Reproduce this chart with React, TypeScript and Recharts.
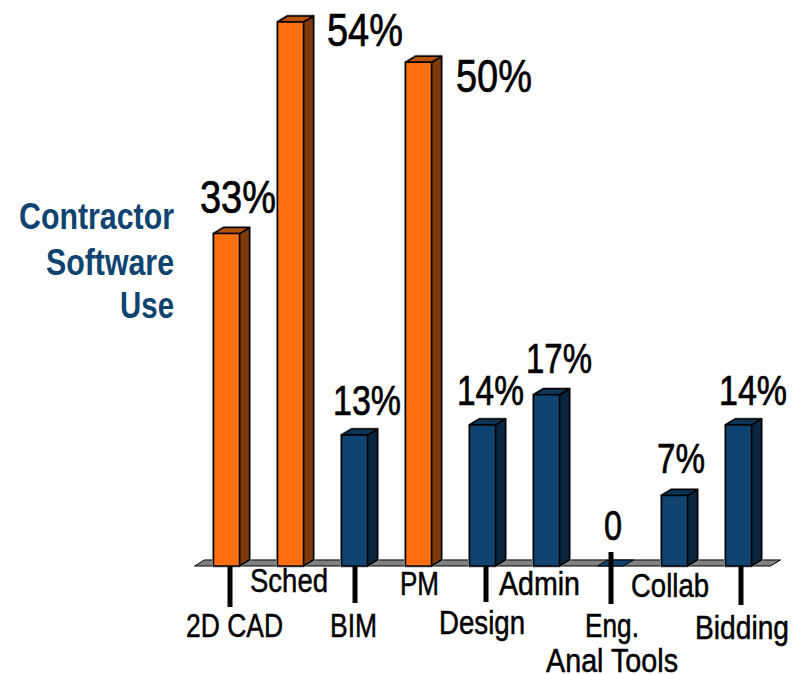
import React from "react";
import { BarChart, Bar, XAxis, YAxis, ReferenceArea } from "recharts";

const categories = ["2D CAD", "Sched", "BIM", "PM", "Design", "Admin", "Eng.", "Collab", "Bidding"];
const usePercent = [33, 54, 13, 50, 14, 17, 0, 7, 14];
const isHighlighted = [true, true, false, true, false, false, false, false, false];
const valueLabels = ["33%", "54%", "13%", "50%", "14%", "17%", "0", "7%", "14%"];
const titleLines = ["Contractor", "Software", "Use"];

const rows = categories.map((name, i) => ({
  name,
  value: usePercent[i],
  label: valueLabels[i],
  highlighted: isHighlighted[i],
}));

// Hand placement of the annotations, in page pixels (the chart covers the whole page)
const tickLayout: Record<string, any> = {
  "2D CAD": { line: [230, 566, 607], text: [{ s: "2D CAD", x1: 186, x2: 283, y: 637 }] },
  Sched: { text: [{ s: "Sched", x1: 250, x2: 328, y: 592 }] },
  BIM: { line: [355, 566, 603], text: [{ s: "BIM", x1: 330, x2: 377, y: 637 }] },
  PM: { text: [{ s: "PM", x1: 400, x2: 439, y: 595 }] },
  Design: { line: [486, 566, 602], text: [{ s: "Design", x1: 439, x2: 525, y: 634 }] },
  Admin: { text: [{ s: "Admin", x1: 499, x2: 580, y: 595 }] },
  "Eng.": {
    line: [611, 552, 604],
    text: [
      { s: "Eng.", x1: 585, x2: 639, y: 637 },
      { s: "Anal Tools", x1: 546, x2: 678, y: 672 },
    ],
  },
  Collab: { text: [{ s: "Collab", x1: 631, x2: 709, y: 597 }] },
  Bidding: { line: [741, 566, 605], text: [{ s: "Bidding", x1: 695, x2: 789, y: 639 }] },
};
const labelLayout = [
  { x1: 200, x2: 276, y: 213, fs: 46 },
  { x1: 327, x2: 403, y: 46, fs: 46 },
  { x1: 333, x2: 401, y: 415, fs: 42 },
  { x1: 456, x2: 532, y: 92, fs: 46 },
  { x1: 457, x2: 524, y: 405, fs: 42 },
  { x1: 526, x2: 592, y: 373, fs: 42 },
  { x1: 604, x2: 622, y: 540, fs: 42 },
  { x1: 657, x2: 705, y: 473, fs: 42 },
  { x1: 719, x2: 787, y: 405, fs: 42 },
];
const titleLayout = [
  { x1: 19, y: 229 },
  { x1: 46, y: 275 },
  { x1: 120, y: 318 },
];

const FONT = "Liberation Sans";
const DX = 10;
const DY = 6;

const Bar3D = (props: any) => {
  const { x, y, width, height, payload } = props;
  const hi = payload.highlighted;
  const front = hi ? "#ff6f0f" : "#0f4470";
  const side = hi ? "#7f3a08" : "#08263f";
  const top = hi ? "#b85208" : "#0c3558";
  const b = y + height;
  if (height < 1) {
    return (
      <polygon
        points={`${x},${b} ${x + width},${b} ${x + width + DX},${b - DY} ${x + DX},${b - DY}`}
        fill={front}
        stroke="#000"
        strokeWidth={1}
      />
    );
  }
  const outline = `${x},${b} ${x},${y} ${x + DX},${y - DY} ${x + width + DX},${y - DY} ${x + width + DX},${b - DY} ${x + width},${b}`;
  return (
    <g stroke="#000" strokeWidth={1.5} strokeLinejoin="round">
      <polygon points={outline} fill="none" stroke="#a8a8a8" strokeWidth={3} />
      <polygon points={`${x + width},${y} ${x + width + DX},${y - DY} ${x + width + DX},${b - DY} ${x + width},${b}`} fill={side} />
      <polygon points={`${x},${y} ${x + DX},${y - DY} ${x + width + DX},${y - DY} ${x + width},${y}`} fill={top} />
      <rect x={x} y={y} width={width} height={height} fill={front} />
    </g>
  );
};

const Floor = (props: any) => {
  const { x, y, width, height } = props;
  const b = y + height;
  return (
    <polygon
      points={`${x},${b} ${x + DX},${y} ${x + width + DX},${y} ${x + width},${b}`}
      fill="#808080"
      stroke="#000"
      strokeWidth={1}
    />
  );
};

const CategoryTick = (props: any) => {
  const layout = tickLayout[props.payload.value];
  if (!layout) return null;
  return (
    <g>
      {layout.line && (
        <line
          x1={layout.line[0]}
          x2={layout.line[0]}
          y1={layout.line[1]}
          y2={layout.line[2]}
          stroke="#000"
          strokeWidth={5}
        />
      )}
      {layout.text.map((t: any) => (
        <text
          key={t.s}
          x={t.x2}
          y={t.y}
          textAnchor="end"
          fontFamily={FONT}
          fontSize={33}
          fill="#000"
          stroke="#000"
          strokeWidth={0.5}
          textLength={t.x2 - t.x1}
          lengthAdjust="spacingAndGlyphs"
        >
          {t.s}
        </text>
      ))}
    </g>
  );
};

const ValueLabel = (props: any) => {
  const { index } = props;
  const l = labelLayout[index];
  return (
    <text
      x={l.x2}
      y={l.y}
      textAnchor="end"
      fontFamily={FONT}
      fontSize={l.fs}
      fill="#000"
      stroke="#000"
      strokeWidth={0.7}
      textLength={l.x2 - l.x1}
      lengthAdjust="spacingAndGlyphs"
    >
      {valueLabels[index]}
    </text>
  );
};

export default function App() {
  return (
    <div style={{ position: "absolute", left: 0, top: 0, width: 799, height: 674 }}>
      <BarChart
        width={799}
        height={674}
        data={rows}
        margin={{ top: 22, right: 28.5, bottom: 0, left: 194.5 }}
        barSize={26}
      >
        <ReferenceArea y1={0} y2={0.6} shape={<Floor />} ifOverflow="visible" />
        <XAxis
          dataKey="name"
          height={108}
          axisLine={false}
          tickLine={false}
          tick={<CategoryTick />}
          interval={0}
        />
        <YAxis hide domain={[0, 54]} />
        <Bar dataKey="value" shape={<Bar3D />} label={<ValueLabel />} isAnimationActive={false} />
        <g>
          {titleLines.map((s, i) => (
            <text
              key={s}
              x={174}
              y={titleLayout[i].y}
              textAnchor="end"
              fontFamily={FONT}
              fontWeight="bold"
              fontSize={36}
              fill="#0f4470"
              textLength={174 - titleLayout[i].x1}
              lengthAdjust="spacingAndGlyphs"
            >
              {s}
            </text>
          ))}
        </g>
      </BarChart>
    </div>
  );
}
